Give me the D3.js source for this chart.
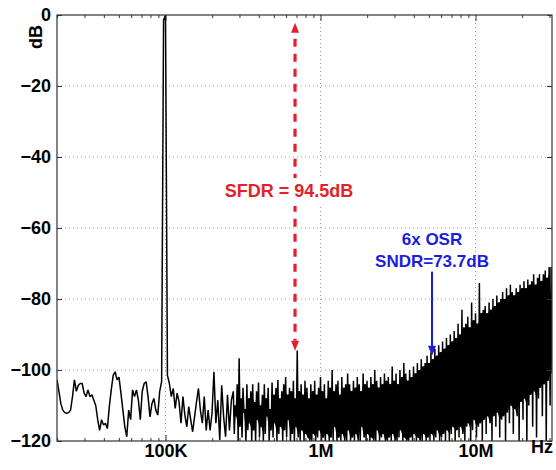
<!DOCTYPE html>
<html><head><meta charset="utf-8">
<script src="https://cdn.jsdelivr.net/npm/d3@7"></script>
<style>body{margin:0;background:#fff}svg{display:block}</style>
</head><body><svg id="chart" width="556" height="470"></svg>
<script>
// ---------------- data ----------------
const yAxisTicks = [0, -20, -40, -60, -80, -100, -120];
const xMajorTicksHz = [1e5, 1e6, 1e7];
const xMajorTickLabels = ["100K", "1M", "10M"];
const xMinorMultipliers = [2, 3, 4, 5, 6, 7, 8, 9];
const xMinorDecadesHz = [1e4, 1e5, 1e6, 1e7];
const xMinHz = 19953, xMaxHz = 3.115e7;
const yMinDb = -120, yMaxDb = 0;

// spectrum bins: log-spaced, 80 per decade, tone bin 56 = 100 kHz
const binsPerDecade = 80;
const toneHz = 1e5, toneBin = 56;

// low band, bins 0..90 (20 kHz .. 270 kHz)
const lowBandDb = [
 -102.8,-106,-109.5,-111.3,-112,-112.2,-112,-111.3,-107.5,-102.8,
 -106,-104.3,-103.8,-103.8,-106.5,-107.5,-105.6,-107.5,-107,-108.5,
 -110,-114,-117,-114,-115.5,-115,-116.5,-110.3,-105.6,-101.5,
 -100.5,-102.8,-102,-106.5,-111.3,-116,-118.8,-111.3,-114,-105.6,
 -107.5,-105.6,-108.5,-114,-106,-103.8,-103.3,-107.5,-113.2,-109.5,
 -108,-111.3,-112.7,-106,-103.3,-1.5,0,-101.5,-103.8,-107.5,
 -105.2,-110.8,-106.5,-109,-115,-107.5,-112.7,-116,-110.3,-114,
 -117.4,-113.2,-109,-105.2,-111.3,-115,-107.5,-117,-111.3,-117,
 -112.2,-100.5,-115,-108.5,-119.7,-104.3,-113.2,-118.8,-107,-117,
 -108.5
];
// dense band, bins 91..255: per-bin peak and trough (dB)
const noiseTopDb = [
 -106,-110,-104,-96.7,-108,-105,-111,-104,-108,-106,
 -104,-109,-106,-103.5,-110,-107,-104,-108,-105,-111,
 -103.5,-107,-105,-102.8,-108,-106,-104,-102,-107,-105,
 -106,-103,-108,-94.5,-106,-104,-107,-103,-105,-108,
 -104,-106,-103,-107,-105,-102,-106,-104,-108,-103,
 -105,-100,-106,-104,-103,-107,-102,-105,-104,-101,
 -104,-106,-103,-105,-102,-104,-106,-101,-104,-103,
 -105,-102,-104,-100,-103,-105,-102,-104,-101,-103,
 -102,-104,-99,-103,-101,-104,-100,-102,-98,-101,
 -103,-100,-102,-99,-101,-98,-100,-97,-99,-98,
 -96,-98,-95,-97,-94,-96,-93,-95,-92,-94,
 -91,-93,-90,-92,-89,-91,-87,-90,-83,-88,
 -87,-85,-88,-81,-86,-84,-87,-75.5,-84,-83,
 -82,-84,-81,-83,-80,-82,-79,-81,-80,-78,
 -80,-77,-79,-76,-78,-79,-77,-78,-76,-77,
 -75,-77,-74.5,-76,-75,-73,-76,-74,-73,-75,
 -73,-72,-74,-71,-71
];
const noiseBottomDb = [
 -118,-113,-120,-116,-119,-112,-120,-117,-115,-120,
 -117,-120,-114,-119,-116,-120,-118,-113,-120,-117,
 -119,-115,-120,-118,-116,-120,-117,-119,-114,-120,
 -118,-120,-116,-119,-120,-117,-120,-118,-119,-120,
 -120,-118,-120,-119,-117,-120,-119,-120,-118,-120,
 -119,-120,-116,-120,-119,-120,-118,-120,-120,-117,
 -120,-119,-120,-118,-120,-120,-116,-119,-120,-118,
 -120,-119,-120,-120,-117,-120,-119,-118,-120,-120,
 -119,-120,-118,-120,-120,-119,-117,-120,-119,-120,
 -120,-119,-120,-118,-120,-119,-120,-120,-118,-120,
 -119,-120,-118,-120,-119,-117,-120,-119,-118,-120,
 -117,-120,-118,-116,-120,-117,-119,-116,-118,-120,
 -116,-115,-120,-117,-114,-119,-116,-115,-120,-114,
 -118,-113,-115,-120,-113,-116,-112,-119,-114,-113,
 -120,-112,-115,-110,-118,-111,-113,-120,-109,-114,
 -108,-120,-110,-107,-116,-106,-119,-108,-105,-113,
 -104,-120,-103,-110,-101
];

// annotations
const sfdrLabel = "SFDR = 94.5dB";
const sfdrArrowHz = 6.85e5, sfdrTopDb = -2.2, sfdrBottomDb = -94.6;
const osrLabels = ["6x OSR", "SNDR=73.7dB"];
const osrArrowHz = 5.24e6, osrTopDb = -72.3, osrBottomDb = -96;

// ---------------- drawing ----------------
const L = 57, R = 552, T = 15, B = 441;
const FONT = '"Liberation Sans", Arial, Helvetica, sans-serif';
const RED = "#e41f2b", BLUE = "#1c1cdc";

const x = d3.scaleLog().domain([xMinHz, xMaxHz]).range([L, R]);
const y = d3.scaleLinear().domain([yMinDb, yMaxDb]).range([B, T]);
const binHz = i => toneHz * Math.pow(10, (i - toneBin) / binsPerDecade);

const points = lowBandDb.map((v, i) => ({f: binHz(i), db: v}));
const denseStart = lowBandDb.length;
noiseTopDb.forEach((v, j) => {
  points.push({f: binHz(denseStart + j), db: v});
  points.push({f: binHz(denseStart + j + 0.5), db: noiseBottomDb[j]});
});
// solid body of the dense band: between adjacent bins' inner peak/trough
const body = noiseTopDb.slice(0, -1).map((v, j) => ({
  f: binHz(denseStart + j + 0.5),
  hi: Math.min(v, noiseTopDb[j + 1]),
  lo: Math.max(noiseBottomDb[j], noiseBottomDb[j + 1])
}));

const svg = d3.select("#chart");

// grid
const grid = svg.append("g");
grid.selectAll("line.gy").data(yAxisTicks.filter(d => d > yMinDb && d < yMaxDb)).join("line")
  .attr("class", "gy")
  .attr("x1", L).attr("x2", R).attr("y1", d => y(d)).attr("y2", d => y(d))
  .attr("stroke", "#a0a0a0").attr("stroke-width", 1).attr("stroke-dasharray", "1,3");
grid.selectAll("line.gx").data(xMajorTicksHz).join("line")
  .attr("class", "gx")
  .attr("y1", T).attr("y2", B).attr("x1", d => x(d)).attr("x2", d => x(d))
  .attr("stroke", "#a0a0a0").attr("stroke-width", 1).attr("stroke-dasharray", "1,3");

// spectrum
svg.append("clipPath").attr("id", "clip").append("rect")
  .attr("x", L).attr("y", T).attr("width", R - L).attr("height", B - T);
const area = d3.area().x(d => x(d.f)).y0(d => y(d.lo)).y1(d => y(d.hi));
svg.append("path").datum(body)
  .attr("clip-path", "url(#clip)").attr("fill", "#000").attr("d", area);
const line = d3.line().x(d => x(d.f)).y(d => y(d.db));
svg.append("path").datum(points)
  .attr("clip-path", "url(#clip)")
  .attr("fill", "none").attr("stroke", "#000").attr("stroke-width", 1.5)
  .attr("stroke-linejoin", "bevel")
  .attr("d", line);

// axes
function styleAxis(g) {
  g.select(".domain").remove();
  g.selectAll("line").attr("stroke", "#333");
  g.selectAll("text").attr("font-family", FONT).attr("font-weight", "bold")
    .attr("font-size", 18).attr("fill", "#000");
}
const minorTicks = [];
xMinorDecadesHz.forEach(d => xMinorMultipliers.forEach(m => {
  const v = d * m; if (v > xMinHz && v < xMaxHz) minorTicks.push(v);
}));

svg.append("g").attr("transform", `translate(${L},0)`)
  .call(d3.axisLeft(y).tickValues(yAxisTicks).tickSize(-5).tickPadding(6)).call(styleAxis);
svg.append("g").attr("transform", `translate(${R},0)`)
  .call(d3.axisRight(y).tickValues(yAxisTicks).tickSize(-5).tickFormat("")).call(styleAxis);
svg.append("g").attr("transform", `translate(0,${B})`)
  .call(d3.axisBottom(x).tickValues(xMajorTicksHz).tickSize(-6).tickPadding(3)
    .tickFormat((d, i) => xMajorTickLabels[i])).call(styleAxis);
svg.append("g").attr("transform", `translate(0,${B})`)
  .call(d3.axisBottom(x).tickValues(minorTicks).tickSize(-3).tickFormat("")).call(styleAxis);
svg.append("g").attr("transform", `translate(0,${T})`)
  .call(d3.axisTop(x).tickValues(xMajorTicksHz).tickSize(-6).tickFormat("")).call(styleAxis);
svg.append("g").attr("transform", `translate(0,${T})`)
  .call(d3.axisTop(x).tickValues(minorTicks).tickSize(-3).tickFormat("")).call(styleAxis);

// frame
svg.append("rect").attr("x", L).attr("y", T).attr("width", R - L).attr("height", B - T)
  .attr("fill", "none").attr("stroke", "#333").attr("stroke-width", 1.2);

// axis titles
svg.append("text").attr("transform", "translate(42,37) rotate(-90)")
  .attr("text-anchor", "middle").attr("font-family", FONT).attr("font-weight", "bold")
  .attr("font-size", 18).text("dB");
svg.append("text").attr("x", 553).attr("y", 453).attr("text-anchor", "end")
  .attr("font-family", FONT).attr("font-weight", "bold").attr("font-size", 18).text("Hz");

// SFDR arrow (dashed, double headed)
const ax = x(sfdrArrowHz), ayTop = y(sfdrTopDb), ayBot = y(sfdrBottomDb);
const headH = 10, headW = 4;
svg.append("line").attr("x1", ax).attr("x2", ax).attr("y1", ayTop + headH + 6).attr("y2", ayBot - headH)
  .attr("stroke", RED).attr("stroke-width", 3.2).attr("stroke-dasharray", "8,7");
svg.append("path").attr("d", `M${ax},${ayTop} L${ax - headW},${ayTop + headH} L${ax + headW},${ayTop + headH} Z`).attr("fill", RED);
svg.append("path").attr("d", `M${ax},${ayBot} L${ax - headW},${ayBot - headH} L${ax + headW},${ayBot - headH} Z`).attr("fill", RED);

const sfdrText = svg.append("text").attr("x", 289).attr("y", 197).attr("text-anchor", "middle")
  .attr("font-family", FONT).attr("font-weight", "bold").attr("font-size", 18)
  .attr("fill", RED).text(sfdrLabel);
const bb = sfdrText.node().getBBox();
svg.insert("rect", () => sfdrText.node()).attr("x", bb.x - 2).attr("y", bb.y - 3)
  .attr("width", bb.width + 4).attr("height", bb.height + 8).attr("fill", "#fff");

// OSR annotation
const bx = x(osrArrowHz), byTop = y(osrTopDb), byBot = y(osrBottomDb);
svg.append("line").attr("x1", bx).attr("x2", bx).attr("y1", byTop).attr("y2", byBot - 9)
  .attr("stroke", BLUE).attr("stroke-width", 2);
svg.append("path").attr("d", `M${bx},${byBot} L${bx - 4},${byBot - 10} L${bx + 4},${byBot - 10} Z`).attr("fill", BLUE);
svg.selectAll("text.osr").data(osrLabels).join("text").attr("class", "osr")
  .attr("x", bx).attr("y", (d, i) => 245 + i * 22).attr("text-anchor", "middle")
  .attr("font-family", FONT).attr("font-weight", "bold").attr("font-size", 17)
  .attr("fill", BLUE).text(d => d);
</script></body></html>
